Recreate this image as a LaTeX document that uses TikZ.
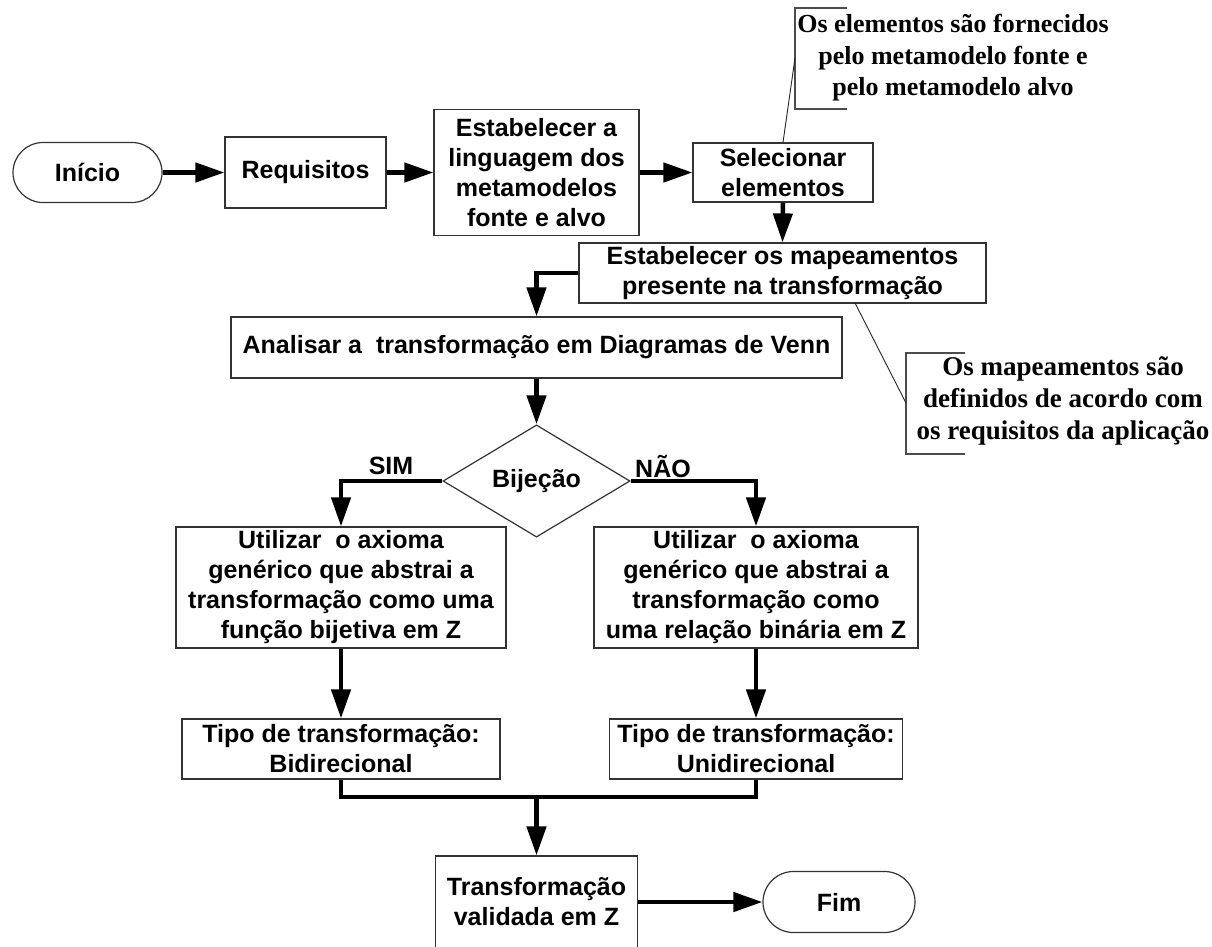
\documentclass[tikz,border=0pt]{standalone}
\usepackage{fontspec}
\setmainfont{Liberation Sans}
\newfontfamily\notefont{Liberation Serif}
\usetikzlibrary{shapes.geometric,shapes.misc,arrows.meta}

\begin{document}
\begin{tikzpicture}[x=1pt,y=-1pt,
  txt/.style={font=\fontsize{25}{30}\selectfont\bfseries, align=center, inner sep=0pt},
  procbox/.style={txt, draw=black!80, line width=1.2pt, rectangle},
  term/.style={txt, draw=black!80, line width=1.2pt, rounded rectangle},
  decision/.style={txt, draw=black!80, line width=1.2pt, diamond},
  flow/.style={line width=4.5pt, -{Triangle[length=29pt,width=19pt]}},
  link/.style={line width=4.5pt},
  leader/.style={line width=0.9pt, black!85},
  bracket/.style={line width=1.1pt, black!70},
  note/.style={font=\notefont\fontsize{26}{31.5}\selectfont\bfseries, align=center, inner sep=0pt},
]
\clip (0,0) rectangle (1212,946);
\fill[white] (0,0) rectangle (1212,946);

% main flow
\node[term, minimum width=149pt, minimum height=60pt] (start) at (87.5,172.5) {Início};
\node[procbox, minimum width=161pt, minimum height=71pt] (req) at (305.5,172.5) {Requisitos};
\node[procbox, minimum width=205pt, minimum height=126pt] (lang) at (536.5,172.5) {Estabelecer a\\linguagem dos\\metamodelos\\fonte e alvo};
\node[procbox, minimum width=180pt, minimum height=59pt] (sel) at (783,172.5) {Selecionar\\elementos};
\node[procbox, minimum width=407pt, minimum height=60pt] (map) at (782.5,273) {Estabelecer os mapeamentos\\presente na transformação};
\node[procbox, minimum width=611pt, minimum height=61pt] (venn) at (536.5,347.5) {Analisar a \ transformação em Diagramas de Venn};
\node[decision, minimum width=187pt, minimum height=108pt] (bij) at (536.5,481) {Bijeção};

% branches
\node[procbox, minimum width=330pt, minimum height=121pt] (axL) at (341,587.5) {Utilizar \ o axioma\\genérico que abstrai a\\transformação como uma\\função bijetiva em Z};
\node[procbox, minimum width=324pt, minimum height=121pt] (axR) at (756,587.5) {Utilizar \ o axioma\\genérico que abstrai a\\transformação como\\uma relação binária em Z};
\node[procbox, minimum width=318pt, minimum height=60pt] (typL) at (341,749) {Tipo de transformação:\\Bidirecional};
\node[procbox, minimum width=293pt, minimum height=60pt] (typR) at (756,749) {Tipo de transformação:\\Unidirecional};
\node[procbox, minimum width=202pt, minimum height=92pt] (valid) at (536.5,902) {Transformação\\validada em Z};
\node[term, minimum width=152pt, minimum height=61pt] (stop) at (839,902) {Fim};

\node[txt] (yes) at (391,466) {SIM};
\node[txt] (no) at (663,466) {NÃO};

% connectors
\draw[flow] (start.east) -- (req.west);
\draw[flow] (req.east) -- (lang.west);
\draw[flow] (lang.east) -- (sel.west);
\draw[flow] (sel.south) -- (map.north);
\draw[flow] (map.west) -| (venn.north);
\draw[flow] (venn.south) -- (bij.north);
\draw[flow] (bij.west) -| (axL.north);
\draw[flow] (bij.east) -| (axR.north);
\draw[flow] (axL.south) -- (typL.north);
\draw[flow] (axR.south) -- (typR.north);
\coordinate (merge) at (536.5,797);
\draw[link] (typL.south) |- (merge);
\draw[link] (typR.south) |- (merge);
\draw[flow] (merge) -- (valid.north);
\draw[flow] (valid.east) -- (stop.west);

% annotation on element selection
\coordinate (b1a) at (847,8);
\coordinate (b1b) at (795,8);
\coordinate (b1c) at (795,109);
\coordinate (b1d) at (847,109);
\coordinate (b1tip) at (795,58);
\draw[bracket] (b1a) -- (b1b) -- (b1c) -- (b1d);
\draw[leader] (sel.north) -- (b1tip);
\node[note] (note1) at (953,58) {Os elementos são fornecidos\\pelo metamodelo fonte e\\pelo metamodelo alvo};

% annotation on mappings
\coordinate (b2a) at (965,353);
\coordinate (b2b) at (906,353);
\coordinate (b2c) at (906,454);
\coordinate (b2d) at (965,454);
\coordinate (b2tip) at (906,403);
\coordinate (mapfoot) at (855,303);
\draw[bracket] (b2a) -- (b2b) -- (b2c) -- (b2d);
\draw[leader] (mapfoot) -- (b2tip);
\node[note, font=\notefont\fontsize{27}{32}\selectfont\bfseries] (note2) at (1063,401) {Os mapeamentos são\\definidos de acordo com\\os requisitos da aplicação};
\end{tikzpicture}
\end{document}
